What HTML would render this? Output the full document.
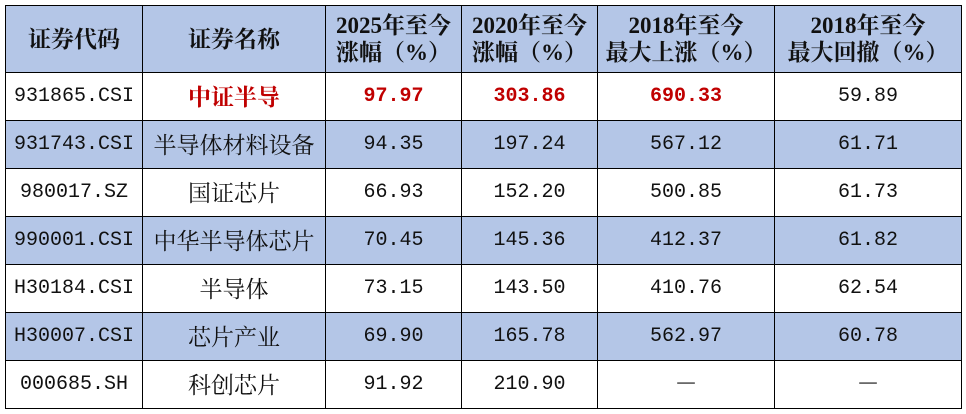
<!DOCTYPE html>
<html><head><meta charset="utf-8"><style>
body{margin:0;width:966px;height:414px;background:#fff;overflow:hidden;position:relative}
table{position:absolute;left:5px;top:5px;border-collapse:collapse;table-layout:fixed}
td{border:1.5px solid #000;text-align:center;padding:0;font-family:"Liberation Mono","Noto Serif CJK SC",monospace;font-size:20px;line-height:24px;color:#111;height:47px;vertical-align:middle}
tr.h td{height:66px;font-family:"Liberation Serif","Noto Serif CJK SC",serif;font-size:23px;font-weight:bold;line-height:27px}
.b td,.h td{background:#b4c6e7}
td.n{font-family:"Noto Serif CJK SC",serif;font-size:23px;line-height:24px}
td.n span{position:relative;top:-1px}
td.d{font-family:"Noto Serif CJK SC",serif;font-size:22px}
td.d span{position:relative;top:-4px}
.r{color:#c00000;font-weight:bold}
</style></head><body>
<table>
<colgroup><col style="width:137px"><col style="width:183px"><col style="width:136px"><col style="width:136px"><col style="width:177px"><col style="width:187px"></colgroup>
<tr class="h"><td>证券代码</td><td>证券名称</td><td>2025年至今<br>涨幅（%）</td><td>2020年至今<br>涨幅（%）</td><td>2018年至今<br>最大上涨（%）</td><td>2018年至今<br>最大回撤（%）</td></tr>
<tr><td>931865.CSI</td><td class="n r"><span>中证半导</span></td><td class="r">97.97</td><td class="r">303.86</td><td class="r">690.33</td><td>59.89</td></tr>
<tr class="b"><td>931743.CSI</td><td class="n"><span>半导体材料设备</span></td><td>94.35</td><td>197.24</td><td>567.12</td><td>61.71</td></tr>
<tr><td>980017.SZ</td><td class="n"><span>国证芯片</span></td><td>66.93</td><td>152.20</td><td>500.85</td><td>61.73</td></tr>
<tr class="b"><td>990001.CSI</td><td class="n"><span>中华半导体芯片</span></td><td>70.45</td><td>145.36</td><td>412.37</td><td>61.82</td></tr>
<tr><td>H30184.CSI</td><td class="n"><span>半导体</span></td><td>73.15</td><td>143.50</td><td>410.76</td><td>62.54</td></tr>
<tr class="b"><td>H30007.CSI</td><td class="n"><span>芯片产业</span></td><td>69.90</td><td>165.78</td><td>562.97</td><td>60.78</td></tr>
<tr><td>000685.SH</td><td class="n"><span>科创芯片</span></td><td>91.92</td><td>210.90</td><td class="d"><span>—</span></td><td class="d"><span>—</span></td></tr>
</table>
</body></html>
